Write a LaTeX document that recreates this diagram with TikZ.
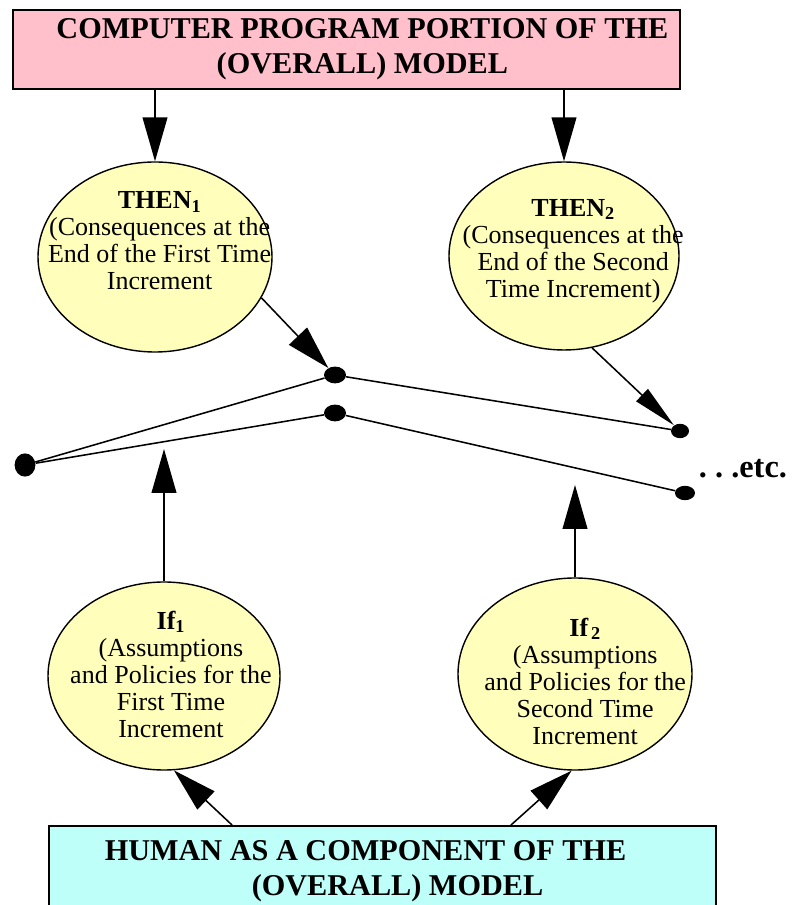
\documentclass[tikz,border=0pt]{standalone}
\usepackage{fontspec}
\setmainfont{Liberation Serif}
\usetikzlibrary{arrows.meta,shapes.geometric}
\definecolor{progpink}{RGB}{255,192,203}
\definecolor{humcyan}{RGB}{191,255,250}
\definecolor{ifyellow}{RGB}{255,255,187}
\newcommand{\titlesize}{\fontsize{21.5pt}{24.9pt}\selectfont}
\newcommand{\bodysize}{\fontsize{18.5pt}{19.2pt}\selectfont}

\begin{document}
\begin{tikzpicture}[
  block/.style={draw, line width=1.3pt, align=center, font=\titlesize\bfseries},
  bubble/.style={ellipse, draw, line width=1pt, fill=ifyellow, minimum width=5.85cm, minimum height=4.75cm},
  bubbletext/.style={align=center, font=\bodysize},
  dot/.style={ellipse, fill=black, inner sep=0pt, minimum width=0.55cm, minimum height=0.42cm},
  arr/.style={line width=1.1pt, -{Triangle[length=1.1cm, width=0.62cm]}}]
\useasboundingbox (0, 0) rectangle (19.85, 22.625);
\node [block, fill=progpink, minimum width=16.675cm, minimum height=1.975cm] (prog) at (8.66, 21.39) {\hspace*{0.8cm}COMPUTER PROGRAM PORTION OF THE\\\hspace*{0.8cm}(OVERALL) MODEL};
\node [block, fill=humcyan, minimum width=16.675cm, minimum height=2.25cm] (hum) at (9.5625, 0.85) {HUMAN AS A COMPONENT OF THE\hspace*{0.85cm}\\\hspace*{0.75cm}(OVERALL) MODEL};

\node [bubble] (then1) at (3.875, 16.2) {};
\node [bubble, minimum width=5.75cm, minimum height=4.7cm] (then2) at (14.1, 16.225) {};
\node [bubble, minimum width=5.8cm, minimum height=4.7cm] (if1) at (4.1, 5.725) {};
\node [bubble, minimum height=4.8cm] (if2) at (14.375, 5.775) {};
\node [bubbletext] (then1txt) at (3.99, 16.6) {\textbf{THEN\textsubscript{1}}\\(Consequences at the\\End of the First Time\\Increment};
\node [bubbletext] (then2txt) at (14.33, 16.35) {\textbf{THEN\textsubscript{2}}\\(Consequences at the\\End of the Second\\Time Increment)};
\node [bubbletext] (if1txt) at (4.275, 5.775) {\textbf{If\textsubscript{1}}\\(Assumptions\\and Policies for the\\First Time\\Increment};
\node [bubbletext] (if2txt) at (14.63, 5.6) {\textbf{If\textsubscript{\,2}}\\(Assumptions\\and Policies for the\\Second Time\\Increment};

\node [dot, minimum width=0.52cm, minimum height=0.58cm] (ldot) at (0.625, 11.0) {};
\node [dot] (umid) at (8.375, 13.25) {};
\node [dot] (lmid) at (8.375, 12.3) {};
\node [dot, minimum width=0.45cm, minimum height=0.36cm] (rup) at (17.0, 11.85) {};
\node [dot, minimum width=0.5cm, minimum height=0.36cm] (rlow) at (17.125, 10.3) {};
\node [anchor=base west, font=\fontsize{23pt}{26pt}\selectfont\bfseries] (etc) at (17.35, 10.675) {.\ .\ .etc.};
\coordinate (if1tip) at (4.1, 11.4);
\coordinate (if2tip) at (14.375, 10.5);

\draw [line width=1.1pt] (ldot) -- (umid) -- (rup);
\draw [line width=1.1pt] (ldot) -- (lmid) -- (rlow);
\draw [arr] (prog.south -| then1.north) -- (then1.north);
\draw [arr] (prog.south -| then2.north) -- (then2.north);
\draw [arr] (then1.-21) -- (umid);
\draw [arr, -{Triangle[length=1.1cm, width=0.42cm]}] (then2.-73) -- (rup);
\draw [arr] (if1.north) -- (if1tip);
\draw [arr] (if2.north) -- (if2tip);
\draw [arr] ([xshift=-3.76cm]hum.north) -- (if1.-84);
\draw [arr] ([xshift=3.21cm]hum.north) -- (if2.-92);
\end{tikzpicture}
\end{document}
